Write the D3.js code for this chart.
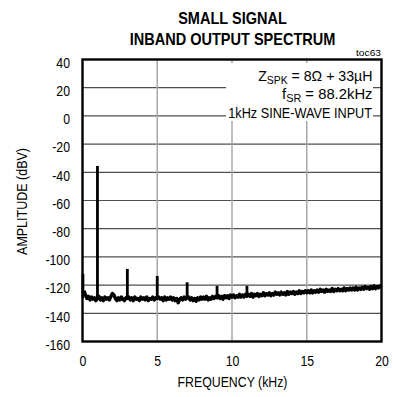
<!DOCTYPE html>
<html><head><meta charset="utf-8">
<script src="https://cdn.jsdelivr.net/npm/d3@7"></script>
<style>
html,body{margin:0;padding:0;background:#fff;}
svg text{font-family:"Liberation Sans",Arial,sans-serif;fill:#000;}
</style></head>
<body><svg id="c" width="393" height="397"></svg>
<script>
// ---- data ----
const titleLines = ["SMALL SIGNAL", "INBAND OUTPUT SPECTRUM"];
const yTicks = [40, 20, 0, -20, -40, -60, -80, -100, -120, -140, -160];
const xTicks = [0, 5, 10, 15, 20];
const annotation = ["1kHz SINE-WAVE INPUT"];
// noise floor read at 0.1 kHz steps, 0.1 .. 20.0 kHz
const noiseStartKHz = 0.1, noiseStepKHz = 0.1;
const noiseDbv = [
 -124,-127,-129.5,-128,-130.5,-128.5,-130,-129,-131,-129.5,
 -128,-130.5,-129,-131,-128.5,-130,-129,-130.5,-128,-126,
 -127,-129.5,-131,-129,-130.5,-128.5,-130,-131,-129,-129.5,
 -128.5,-130.5,-129,-131,-128.5,-130,-129.5,-131,-128.5,-130,
 -129,-130.5,-128.5,-131,-129.5,-130,-128.5,-130.5,-129,-129.5,
 -128.5,-130,-129,-131,-128.5,-130.5,-129,-130,-128.5,-130.5,
 -129,-131,-129.5,-132.5,-130,-129,-130.5,-128.5,-130,-129,
 -128.5,-130.5,-129,-131,-129.5,-131.5,-129,-130.5,-128.5,-130,
 -128.5,-130,-128,-130.5,-129,-130,-128,-129.5,-128,-129,
 -127.5,-129.5,-128,-130,-127.5,-129,-127.5,-129.5,-127,-128.5,
 -127,-129,-127.5,-128.5,-126.5,-128.5,-127,-128.5,-126.5,-128,
 -126.5,-128,-126,-128.5,-126.5,-127.5,-126,-128,-126.5,-127.5,
 -125.5,-127.5,-126,-127,-125.5,-127.5,-126,-127,-125,-126.5,
 -125.5,-127,-125,-126.5,-125.5,-127,-124.5,-126.5,-125,-126,
 -124.5,-126.5,-125,-126,-124,-126,-124.5,-125.5,-124,-125.5,
 -124,-125.5,-123.5,-125.5,-124,-125,-123.5,-125,-123,-124.5,
 -123.5,-125,-123,-124.5,-123.5,-124.5,-122.5,-124.5,-123,-124,
 -122.5,-124,-123,-124,-122,-124,-122.5,-123.5,-122,-123.5,
 -122,-123.5,-121.5,-123.5,-122,-123,-121.5,-123,-121,-122.5,
 -121.5,-123,-121,-122.5,-120.5,-122.5,-121,-122,-120.5,-121.5];
// spectral lines (DC, fundamental, harmonics)
const spikeFreqKHz = [0.03, 1, 3, 5, 7, 9, 11];
const spikeTopDbv  = [-112, -35.5, -108.5, -113.5, -118, -120.5, -120.5];
const spikeBaseDbv = [-129, -129.5, -129.5, -129.5, -129.5, -128.5, -127];

// ---- chart ----
const svg = d3.select("#c");
const x = d3.scaleLinear().domain([0, 20]).range([82.5, 381.5]);
const y = d3.scaleLinear().domain([-160, 40]).range([341.5, 59.5]);

function fitText(sel, width) {
  sel.each(function() {
    const w = this.getBBox().width;
    const sx = width / w;
    const tx = +this.getAttribute("x") || 0, ty = +this.getAttribute("y") || 0;
    const t0 = this.getAttribute("transform") || `translate(${tx},${ty})`;
    this.setAttribute("x", 0); this.setAttribute("y", 0);
    this.setAttribute("transform", `${t0} scale(${sx},1)`);
  });
}

// title
svg.selectAll("text.title").data(titleLines).join("text")
  .attr("class","title").attr("x",232.5).attr("y",(d,i)=>24+i*21)
  .attr("text-anchor","middle").attr("font-size",16).attr("font-weight","bold").text(d=>d)
  .each(function(d,i){ fitText(d3.select(this), i===0 ? 109 : 206); });

svg.append("text").attr("x",381).attr("y",56).attr("text-anchor","end")
  .attr("font-size",9.5).text("toc63").call(fitText, 25);

// grid
const g = svg.append("g");
g.selectAll("line.h").data(yTicks.filter(v=>v>-160 && v<40)).join("line")
  .attr("x1",x(0)).attr("x2",x(20)).attr("y1",d=>y(d)).attr("y2",d=>y(d))
  .attr("stroke","#505050").attr("stroke-width",1.2);
g.selectAll("line.v").data(xTicks.filter(v=>v>0 && v<20)).join("line")
  .attr("y1",y(40)).attr("y2",y(-160)).attr("x1",d=>x(d)).attr("x2",d=>x(d))
  .attr("stroke","#a8a8a8").attr("stroke-width",1.5);

// annotation box
svg.append("rect").attr("x",226).attr("y",63).attr("width",147).attr("height",58).attr("fill","#fff");
const a1 = svg.append("text").attr("x",372.5).attr("y",81).attr("text-anchor","end").attr("font-size",15);
a1.append("tspan").text("Z");
a1.append("tspan").attr("font-size",11).attr("dy",3).text("SPK");
a1.append("tspan").attr("dy",-3).text(" = 8Ω + 33µH");
fitText(a1, 114.5);
const a2 = svg.append("text").attr("x",372.5).attr("y",99).attr("text-anchor","end").attr("font-size",15);
a2.append("tspan").text("f");
a2.append("tspan").attr("font-size",11).attr("dy",3).text("SR");
a2.append("tspan").attr("dy",-3).text(" = 88.2kHz");
fitText(a2, 90.5);
svg.append("text").attr("x",372).attr("y",118).attr("text-anchor","end").attr("font-size",15)
  .text(annotation[0]).call(fitText, 144);

// noise trace
const noisePts = noiseDbv.map((v,i)=>[noiseStartKHz + i*noiseStepKHz, v]);
svg.append("path").datum(noisePts)
  .attr("d", d3.line().x(d=>x(d[0])).y(d=>y(d[1])))
  .attr("fill","none").attr("stroke","#000").attr("stroke-width",3.4).attr("stroke-linejoin","round");
svg.selectAll("line.spike").data(spikeFreqKHz).join("line")
  .attr("x1",d=>x(d)).attr("x2",d=>x(d))
  .attr("y1",(d,i)=>y(spikeTopDbv[i])).attr("y2",(d,i)=>y(spikeBaseDbv[i]))
  .attr("stroke","#000").attr("stroke-width",2.8);

// frame
svg.append("rect").attr("x",x(0)).attr("y",y(40)).attr("width",x(20)-x(0)).attr("height",y(-160)-y(40))
  .attr("fill","none").attr("stroke","#000").attr("stroke-width",2.4);

// axes
const ya = svg.append("g").attr("transform",`translate(${x(0)},0)`)
  .call(d3.axisLeft(y).tickValues(yTicks).tickSize(0).tickPadding(0).tickFormat(d3.format("d")));
ya.select(".domain").remove();
ya.selectAll("text").attr("font-size",15).attr("font-family",null)
  .text(d=>String(d)).attr("x",0).attr("dy","0.32em")
  .attr("transform","translate(-12.5,3) scale(0.82,1)");
const xa = svg.append("g").attr("transform",`translate(0,${y(-160)})`)
  .call(d3.axisBottom(x).tickValues(xTicks).tickSize(0).tickPadding(0).tickFormat(d3.format("d")));
xa.select(".domain").remove();
xa.selectAll("text").attr("font-size",15).attr("font-family",null)
  .attr("y",0).attr("transform","translate(0,14) scale(0.82,1)");

svg.append("text").attr("x",232.5).attr("y",387).attr("text-anchor","middle").attr("font-size",15)
  .text("FREQUENCY (kHz)").call(fitText, 110);
svg.append("text").attr("transform","translate(27,201.5) rotate(-90)").attr("text-anchor","middle").attr("font-size",15)
  .text("AMPLITUDE (dBV)").call(fitText, 107);
</script></body></html>
